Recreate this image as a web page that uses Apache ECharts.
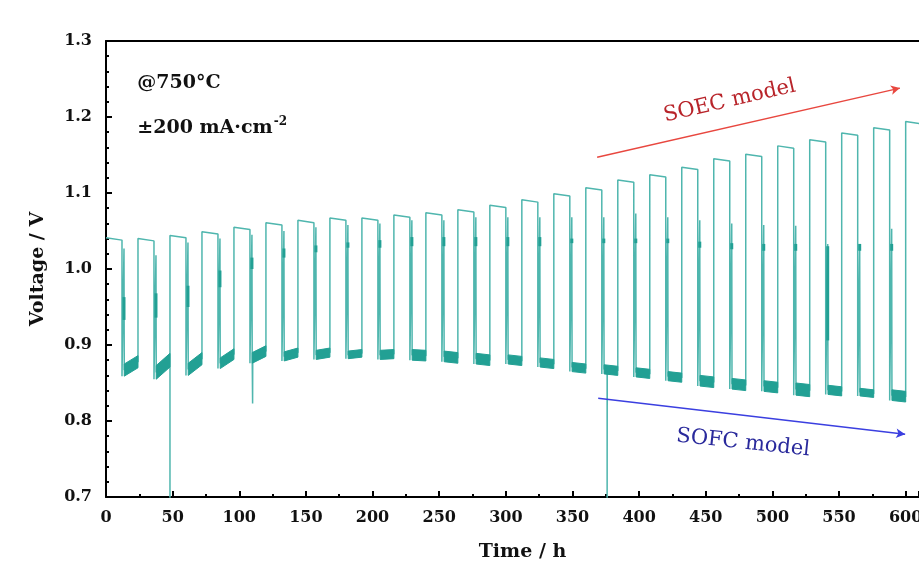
<!DOCTYPE html>
<html>
<head>
<meta charset="utf-8">
<script src="https://cdn.jsdelivr.net/npm/echarts@6/dist/echarts.min.js"></script>
<style>
html,body{margin:0;padding:0;background:#fff;}
#chart{width:919px;height:568px;}
</style>
</head>
<body>
<div id="chart"></div>
<script>
// ---- data ----
const xTicks = [0,50,100,150,200,250,300,350,400,450,500,550,600];
const yTicks = [0.7,0.8,0.9,1.0,1.1,1.2,1.3];
// start times of SOEC (high voltage) periods, h
const highT = [0,24,48,72,96,120,144,168,192,216,240,264,288,312,336,360,384,408,432,456,480,504,528,552,576,600];
// SOEC plateau voltage at start / end of each period
const highStart = [1.041,1.040,1.044,1.049,1.055,1.061,1.064,1.067,1.067,1.071,1.074,1.078,1.084,1.091,1.099,1.107,1.117,1.124,1.134,1.145,1.151,1.162,1.170,1.179,1.186,1.194];
const highEnd   = [1.038,1.037,1.041,1.046,1.052,1.058,1.061,1.064,1.064,1.068,1.071,1.075,1.081,1.088,1.096,1.104,1.114,1.121,1.131,1.142,1.148,1.159,1.167,1.176,1.183,1.191];
// SOFC band centre at start / end of each period and half thickness of the noisy band
const lowStart  = [0.867,0.864,0.868,0.876,0.883,0.885,0.887,0.887,0.887,0.887,0.885,0.882,0.881,0.877,0.871,0.868,0.864,0.859,0.853,0.849,0.846,0.842,0.841,0.838,0.834];
const lowEnd    = [0.878,0.880,0.882,0.888,0.892,0.890,0.890,0.889,0.888,0.886,0.883,0.880,0.879,0.875,0.869,0.866,0.862,0.857,0.851,0.847,0.844,0.840,0.839,0.836,0.832];
const lowSpread = [0.008,0.009,0.008,0.007,0.007,0.006,0.006,0.005,0.006,0.007,0.007,0.007,0.006,0.006,0.006,0.006,0.006,0.006,0.007,0.007,0.007,0.008,0.006,0.005,0.007];
// second trace right after each switch to SOFC
const shoulderTop = [1.027,1.018,1.035,1.040,1.045,1.050,1.055,1.058,1.060,1.064,1.064,1.068,1.068,1.068,1.068,1.068,1.073,1.068,1.064,1.060,1.058,1.057,1.033,1.033,1.053];
const darkTop = [0.963,0.968,0.978,0.998,1.015,1.027,1.031,1.035,1.038,1.042,1.042,1.042,1.042,1.042,1.040,1.040,1.040,1.040,1.036,1.034,1.033,1.033,1.030,1.033,1.033];
const darkBot = [0.933,0.936,0.950,0.976,1.000,1.015,1.022,1.028,1.028,1.030,1.030,1.030,1.030,1.030,1.034,1.034,1.034,1.034,1.028,1.026,1.024,1.024,0.906,1.024,1.024];
// isolated downward spikes
const spikeT = [48,110,376];
const spikeV = [0.68,0.823,0.68];
// arrows [t0,v0,t1,v1]
const soecArrow = [368.5,1.147,595.7,1.238];
const sofcArrow = [369.3,0.830,599.6,0.7825];

// ---- build trace ----
const SOEC_LEN = 12, SHOULDER_DT = 1.5, BAND_DT = 1.7;
const trace = [];
const bands = [];
const darks = [];
for (let k = 0; k < highT.length; k++) {
  const t = highT[k];
  spikeT.forEach((s,i)=>{ if (s === t) trace.push([t, spikeV[i]]); });
  trace.push([t, highStart[k]]);
  trace.push([t + SOEC_LEN, highEnd[k]]);
  if (k < highT.length - 1) {
    const t0 = t + SOEC_LEN, t1 = highT[k+1];
    trace.push([t0, lowStart[k] - lowSpread[k]]);
    trace.push([t0 + SHOULDER_DT, shoulderTop[k]]);
    trace.push([t0 + BAND_DT, lowStart[k]]);
    spikeT.forEach((s,i)=>{
      if (s > t0 && s < t1) {
        trace.push([s, lowStart[k]]);
        trace.push([s, spikeV[i]]);
        trace.push([s + 0.1, lowStart[k]]);
      }
    });
    trace.push([t1, lowEnd[k]]);
    bands.push([t0 + BAND_DT, t1, lowStart[k], lowEnd[k], lowSpread[k]]);
    darks.push([t0 + SHOULDER_DT, darkBot[k], darkTop[k]]);
  } else {
    trace.push([t + SOEC_LEN, 0.83]);
  }
}

const SERIF = '"DejaVu Serif", "Liberation Serif", serif';
const X_MIN = 0, X_MAX = 610;
const chart = echarts.init(document.getElementById('chart'), null, {renderer:'canvas'});
const option = {
  animation: false,
  backgroundColor: '#fff',
  grid: {left:106, right:0, top:41, bottom:71, show:false, containLabel:false, outerBoundsMode:'none'},
  xAxis: [{
    type:'value', min:X_MIN, max:X_MAX, interval:50,
    name:'Time / h', nameLocation:'middle', nameGap:46,
    nameTextStyle:{fontFamily:SERIF, fontWeight:'bold', fontSize:19, color:'#111', padding:[0,0,0,20]},
    axisLine:{show:true, onZero:false, lineStyle:{color:'#000', width:2}},
    axisTick:{show:true, inside:true, length:6, lineStyle:{color:'#000', width:2}},
    minorTick:{show:true, splitNumber:2, length:3, lineStyle:{color:'#000', width:2}},
    splitLine:{show:false},
    axisLabel:{fontFamily:SERIF, fontWeight:'bold', fontSize:16, color:'#111', margin:13, showMaxLabel:true,
      formatter:v=> xTicks.indexOf(v) >= 0 ? String(v) : ''}
  },{
    type:'value', position:'top', min:X_MIN, max:X_MAX,
    axisLine:{show:true, onZero:false, lineStyle:{color:'#000', width:2}},
    axisTick:{show:false}, axisLabel:{show:false}, splitLine:{show:false}
  }],
  yAxis: {
    type:'value', min:0.7, max:1.3, interval:0.1,
    name:'Voltage / V', nameLocation:'middle', nameGap:58, nameRotate:90,
    nameTextStyle:{fontFamily:SERIF, fontWeight:'bold', fontSize:19, color:'#111'},
    axisLine:{show:true, lineStyle:{color:'#000', width:2}},
    axisTick:{show:true, inside:true, length:6, lineStyle:{color:'#000', width:2}},
    minorTick:{show:true, splitNumber:5, length:3, lineStyle:{color:'#000', width:2}},
    splitLine:{show:false},
    axisLabel:{fontFamily:SERIF, fontWeight:'bold', fontSize:16, color:'#111', margin:14,
      formatter:v=>{ const s=(Math.round(v*10)/10).toFixed(1); return yTicks.map(x=>x.toFixed(1)).indexOf(s)>=0 ? s : ''; }}
  },
  series: [
    {
      type:'line', data:trace, showSymbol:false, clip:true, z:2,
      lineStyle:{color:'#4fb6ae', width:1.5}, silent:true,
      markLine:{
        silent:true, symbol:['none','arrow'], symbolSize:[7,9],
        label:{show:false},
        data:[
          [{coord:[soecArrow[0],soecArrow[1]], lineStyle:{color:'#e8473f', width:1.4, type:'solid'}},
           {coord:[soecArrow[2],soecArrow[3]]}],
          [{coord:[sofcArrow[0],sofcArrow[1]], lineStyle:{color:'#3b3fe0', width:1.4, type:'solid'}},
           {coord:[sofcArrow[2],sofcArrow[3]]}]
        ]
      }
    },
    {
      type:'custom', data:bands, clip:true, z:3, silent:true,
      renderItem:(params, api)=>{
        const x0=api.value(0), x1=api.value(1), s=api.value(2), e=api.value(3), h=api.value(4);
        return {type:'polygon', shape:{points:[
          api.coord([x0, s-h]), api.coord([x0, s+h]), api.coord([x1, e+h]), api.coord([x1, e-h])
        ]}, style:{fill:'#22a094', stroke:'#22a094', lineWidth:1}};
      }
    },
    {
      type:'custom', data:darks, clip:true, z:3, silent:true,
      renderItem:(params, api)=>{
        const a=api.coord([api.value(0), api.value(1)]), b=api.coord([api.value(0), api.value(2)]);
        return {type:'line', shape:{x1:a[0], y1:a[1], x2:b[0], y2:b[1]}, style:{stroke:'#22a094', lineWidth:3}};
      }
    }
  ]
};
chart.setOption(option);

const P = (t,v)=>chart.convertToPixel({xAxisIndex:0, yAxisIndex:0},[t,v]);
const pA = P(23.5, 1.245), pB = P(23.5, 1.186), pS = P(468, 1.221), pF = P(478, 0.771);
chart.setOption({graphic:[
  {type:'text', x:pA[0], y:pA[1], style:{text:'@750\u00B0C', font:'bold 19px '+SERIF, fill:'#111', textVerticalAlign:'middle'}},
  {type:'text', x:pB[0], y:pB[1], style:{
    text:'\u00B1200 mA\u00B7cm{sup|-2}', font:'bold 19px '+SERIF, fill:'#111', textVerticalAlign:'middle',
    rich:{sup:{fontSize:12, fontWeight:'bold', fontFamily:SERIF, verticalAlign:'top', padding:[0,0,12,1], fill:'#111'}}
  }},
  {type:'text', x:pS[0], y:pS[1], rotation:13*Math.PI/180, style:{text:'SOEC model', font:'21px '+SERIF, fill:'#b8242a', align:'center', verticalAlign:'middle'}},
  {type:'text', x:pF[0], y:pF[1], rotation:-6*Math.PI/180, style:{text:'SOFC model', font:'21px '+SERIF, fill:'#2a2a9c', align:'center', verticalAlign:'middle'}}
]});
</script>
</body>
</html>
